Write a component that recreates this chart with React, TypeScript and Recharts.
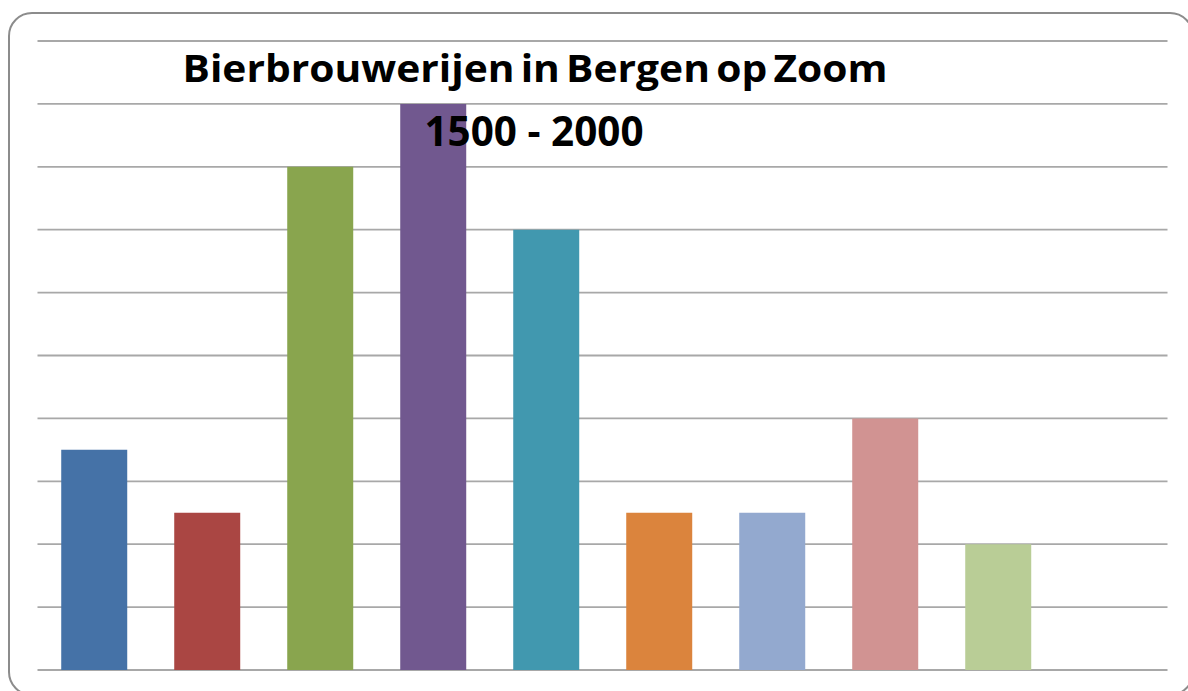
import { BarChart, Bar, XAxis, YAxis, CartesianGrid, Cell } from 'recharts';

// half-century periods, 1500 - 2000
const periods = ['1500', '1550', '1600', '1650', '1700', '1750', '1800', '1850', '1900', '1950'];
const breweries = [7, 5, 16, 18, 14, 5, 5, 8, 4, 0];
const barColors = [
  '#4572A7', '#AA4643', '#89A54E', '#71588F', '#4198AF',
  '#DB843D', '#93A9CF', '#D19392', '#B9CD96', '#80699B',
];
const yTicks = [0, 2, 4, 6, 8, 10, 12, 14, 16, 18, 20];
const titleLines = ['Bierbrouwerijen in Bergen op Zoom', '1500 - 2000'];

const data = periods.map((period, i) => ({ period, value: breweries[i] }));

export default function App() {
  return (
    <div style={{ position: 'absolute', left: 0, top: 0, width: 1188, height: 691, overflow: 'hidden', background: '#fff' }}>
      <div
        style={{
          position: 'absolute',
          left: 8,
          top: 12,
          width: 1186,
          height: 684,
          boxSizing: 'border-box',
          border: '2px solid #8c8c8c',
          borderRadius: 24,
        }}
      />
      <div style={{ position: 'absolute', left: 0, top: 0 }}>
        <BarChart
          width={1188}
          height={691}
          data={data}
          margin={{ top: 41, right: 20.5, left: 37.5, bottom: 21 }}
          barCategoryGap="21%"
        >
          <CartesianGrid vertical={false} stroke="#a8a8a8" strokeWidth={1.8} />
          <XAxis dataKey="period" hide />
          <YAxis domain={[0, 20]} ticks={yTicks} hide />
          <Bar dataKey="value" isAnimationActive={false}>
            {data.map((d, i) => (
              <Cell key={d.period} fill={barColors[i]} />
            ))}
          </Bar>
        </BarChart>
      </div>
      <svg width={1188} height={691} style={{ position: 'absolute', left: 0, top: 0, pointerEvents: 'none' }}>
        <text
          x={535}
          y={82}
          textAnchor="middle"
          fontFamily="'Open Sans', sans-serif"
          fontWeight={700}
          fontSize={37}
          wordSpacing={-4}
          textLength={705}
          lengthAdjust="spacingAndGlyphs"
          fill="#000"
        >
          {titleLines[0]}
        </text>
        <text
          x={534}
          y={145.5}
          textAnchor="middle"
          fontFamily="'Open Sans', sans-serif"
          fontWeight={700}
          fontSize={42}
          textLength={219}
          lengthAdjust="spacingAndGlyphs"
          fill="#000"
        >
          {titleLines[1]}
        </text>
      </svg>
    </div>
  );
}
